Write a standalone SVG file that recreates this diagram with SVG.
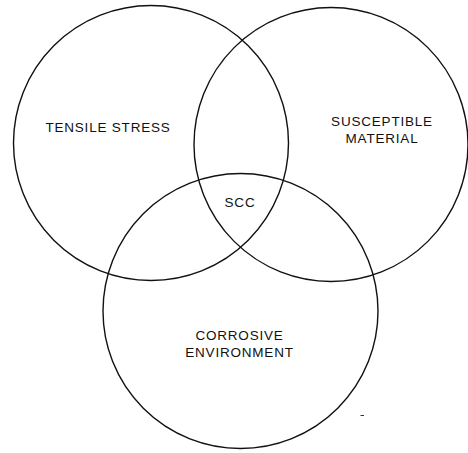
<svg xmlns="http://www.w3.org/2000/svg" width="468" height="453" viewBox="0 0 468 453">
<style>
.c{fill:none;stroke:#111;stroke-width:1.4}
.t{font-family:"Liberation Sans",Arial,sans-serif;font-size:13.5px;fill:#111;text-anchor:middle;letter-spacing:0.8px}
</style>
<rect width="468" height="453" fill="#fff"/>
<g id="tensile">
<circle class="c" cx="151" cy="143" r="137.5"/>
<text class="t" x="108" y="132">TENSILE STRESS</text>
</g>
<g id="susceptible">
<circle class="c" cx="331" cy="144.5" r="137"/>
<text class="t" x="382" y="126">SUSCEPTIBLE</text>
<text class="t" x="382" y="143">MATERIAL</text>
</g>
<g id="corrosive">
<circle class="c" cx="240.5" cy="311" r="137.5"/>
<text class="t" x="239.5" y="340">CORROSIVE</text>
<text class="t" x="239.5" y="357">ENVIRONMENT</text>
</g>
<g id="scc">
<text class="t" x="240" y="207">SCC</text>
</g>
<g id="connectors"/>
<line x1="360.5" y1="415.5" x2="364" y2="415.5" stroke="#333" stroke-width="1"/>
</svg>
